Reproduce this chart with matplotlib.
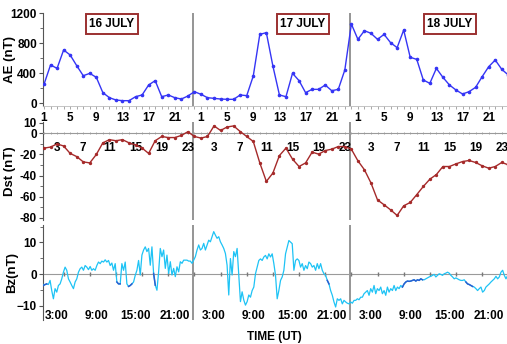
import numpy as np
import matplotlib
matplotlib.use("Agg")
import matplotlib.pyplot as plt
from matplotlib.ticker import MultipleLocator, FixedLocator

plt.rcParams['font.family'] = ['Liberation Sans', 'DejaVu Sans']
plt.rcParams['font.weight'] = 'bold'

# ---------------- data ----------------
hours = np.arange(1, 73)  # hour index, 16 July 01 UT .. 18 July 24 UT

ae_values = [249, 507, 462, 707, 640, 498, 364, 395, 342, 138, 71, 40, 31, 31, 84, 107, 240, 298, 84, 107, 71, 53, 93, 151,
             116, 71, 62, 53, 49, 49, 107, 98, 360, 915, 938, 493, 107, 84, 396, 298, 138, 182, 182, 240, 164, 182, 440, 1053,
             849, 964, 929, 849, 915, 804, 738, 973, 609, 582, 307, 262, 462, 342, 240, 173, 120, 151, 209, 351, 484, 573, 449, 373]

dst_values = [-14, -13, -10, -12, -19, -22, -27, -28, -20, -9, -6, -7, -6, -9, -11, -14, -19, -7, -3, -4, -4, -2, 1.5, -3,
              -4.5, -3, 7, 2.7, 6, 7, 1.7, -3, -7.7, -28, -45.5, -37.6, -21, -14, -24.4, -31.4, -28, -17.8, -19.7, -16.3, -15, -12.5, -12.5, -15,
              -26, -34.5, -47, -63, -67.6, -72.4, -77.7, -68.6, -65.4, -58, -50.3, -43.4, -39, -31.4, -31.4, -28.9, -26.7, -25.7, -27.6, -30.7, -33, -31.4, -27.6, -29.8]

bz_values = [
    -2.5, -3.6, -3.3, -3.1, -3.3, -2.0, -5.2, -7.8, -4.6, -5.7, -3.6, -3.1, -1.5, 0.6, 2.2, 1.2, -1.5, -2.5, -3.6, -4.6,
    -2.5, -1.5, 0.6, 1.7, 2.2, 1.2, 2.7, 2.2, 1.4, 2.4, 1.2, 1.7, 1.2, 2.7, 3.8, 3.3, 4.1, 3.8, 4.5, 3.8,
    4.3, 2.7, 3.5, 1.2, 3.3, -2.5, -3.1, -3.1, 3.3, 1.2, 3.8, -3.1, -3.9, -3.6, -3.1, -2.5, -0.4, 1.2, 4.3,
    -0.3, 6.0, 7.6, 8.6, 7.1, 8.1, 2.8, 8.6, 0.2, -3.5, -5.1, 0.7, 8.1, 5.5, 7.6, 1.8, 6.0, 0.2, 3.9, -0.3,
    1.8, -0.8, 2.3, 0.7, 3.9, 3.4, 4.4, 4.4, 4.4, 4.1, 4.1, 3.4, 4.4, 5.5, 7.6, 9.2, 7.6, 8.1, 9.7, 7.6,
    9.2, 10.7, 10.2, 11.8, 13.4, 12.3, 11.3, 11.8, 10.2, 9.2, 8.1, 6.5, 2.8, -6.6, 4.9, -0.3, 7.1, 5.5, 8.1, -0.3,
    -8.7, -5.6, -8.2, -9.8, -8.7, -6.6,
    -7.3, -5.2, -4.1, 0.1, 2.2, 4.3, 4.8, 4.3, 5.4, 5.9, 4.8, 6.4, 5.4, 6.4, 3.3, -0.4, -7.8, -5.2, -2.0, -0.9,
    1.2, 6.4, 8.5, 10.6, 10.1, 9.6, 1.2, 4.3, 4.8, 4.3, 2.2, 3.3, 1.2, 2.7, 1.7, 3.8, 3.3, 2.2, 2.7, 1.2,
    3.3, 1.7, 3.3, 1.2, 0.1, -0.4, -2.0, -3.1, -5.2, -6.7, -8.8, -10.4, -7.8, -8.3, -7.8, -9.4, -8.3, -8.8, -9.2, -9.4,
    -8.8, -9.2, -8.3, -8.3, -7.8, -8.1, -7.3, -7.3, -6.2, -5.7, -5.2, -6.7, -4.6, -5.7, -3.6, -6.2, -4.6, -5.2, -4.1, -6.2,
    -5.2, -6.7, -4.1, -5.7, -4.6, -5.2, -3.6, -5.2, -4.1, -4.6, -3.6, -4.1, -3.1, -2.5, -2.2, -2.3, -2.2, -2.0, -1.8, -2.2,
    -1.8, -2.0, -1.5, -1.8, -1.8, -1.5, -1.2, -0.9, -0.7, -0.4, -0.1, -0.9, -0.4, 0.1, -0.1, -0.4, 0.1, 0.3, 0.6, 0.3,
    -0.4, -0.9, -1.5, -1.2, -1.5, -1.8, -2.0, -2.0, -1.8, -2.5, -3.1, -3.3, -3.6, -3.9, -4.1, -4.6, -5.2, -4.6, -4.1, -5.7,
    -5.2, -4.1, -3.6, -3.1, -2.5, -2.0, -1.5, -0.7, -1.5, -0.9, 0.6, 1.2, -0.4, -1.5, -0.4]
bz_time = np.linspace(0.65, 71.9, len(bz_values))
# stretches drawn in a darker blue (hours)
bz_dark_ranges = [(0.85, 1.6), (3.0, 3.45), (12.1, 12.9), (13.7, 14.6), (17.6, 18.25), (28.8, 29.1),
                  (44.2, 44.8), (55.8, 58.9), (65.3, 66.7), (69.7, 70.0)]

day_names = ['16 JULY', '17 JULY', '18 JULY']
day_label_hour = [11.4, 40.6, 63.1]
day_breaks = [23.8, 47.8]

ae_tick_hours = [1, 5, 9, 13, 17, 21]
dst_tick_hours = [3, 7, 11, 15, 19, 23]
bz_tick_hours = [3, 9, 15, 21]

# ---------------- figure ----------------
W, H = 507, 344
fig = plt.figure(figsize=(W / 100, H / 100), dpi=100)

def fr(left_px, top_px, right_px, bottom_px):
    return [left_px / W, 1 - bottom_px / H, (right_px - left_px) / W, (bottom_px - top_px) / H]

xlim = (0.77, 71.8)
ae_ax = fig.add_axes(fr(42.5, 13, 507, 106))
dst_ax = fig.add_axes(fr(42.5, 121.7, 507, 220))
bz_ax = fig.add_axes(fr(42.5, 225, 507, 320))

tick_fs = 8.5
AE_C = '#3535f5'
DST_C = '#a52a2a'
BZ_C = '#1ec3f5'
BZ_DARK = '#2a5fd0'

for ax in (ae_ax, dst_ax, bz_ax):
    ax.set_xlim(*xlim)
    ax.spines['top'].set_visible(False)
    ax.spines['right'].set_visible(False)
    ax.spines['left'].set_color('#555555')
    ax.spines['left'].set_linewidth(0.8)
    ax.tick_params(axis='y', labelsize=tick_fs, length=3, width=0.8, color='#555555', pad=1)
    ax.tick_params(axis='y', which='minor', length=2, width=0.6, color='#555555')
    for xb in day_breaks:
        ax.axvline(xb, color='#8c8c8c', lw=1.3, zorder=1)

# ---- AE ----
ae_ax.plot(hours, ae_values, color=AE_C, lw=1.0, marker='o', ms=1.6, zorder=3)
ae_ax.set_ylim(-40, 1200)
ae_ax.set_yticks([0, 400, 800, 1200])
ae_ax.yaxis.set_minor_locator(MultipleLocator(200))
ae_ax.spines['bottom'].set_color('#bbbbbb')
ae_ax.spines['bottom'].set_linewidth(0.6)
ae_ticks = [h + 24 * d for d in range(3) for h in ae_tick_hours]
ae_ax.set_xticks(ae_ticks)
ae_ax.set_xticklabels([str(h) for d in range(3) for h in ae_tick_hours], fontsize=tick_fs, fontweight='bold')
ae_ax.xaxis.set_minor_locator(FixedLocator(hours))
ae_ax.tick_params(axis='x', which='both', length=2, width=0.6, color='#999999', pad=2)
ae_ax.set_ylabel('AE (nT)', fontsize=9.5, fontweight='bold')
ae_ax.yaxis.set_label_coords(-0.056, 0.5)
for name, hx in zip(day_names, day_label_hour):
    ae_ax.text(hx, 1053, name, ha='center', va='center', fontsize=8.5, fontweight='bold',
               bbox=dict(boxstyle='square,pad=0.3', fc='white', ec='#9b3030', lw=1.4), zorder=5)

# ---- Dst ----
dst_ax.plot(hours, dst_values, color=DST_C, lw=1.0, marker='o', ms=1.4, zorder=3)
dst_ax.set_ylim(-82, 11)
dst_ax.set_yticks([10, 0, -20, -40, -60, -80])
dst_ax.set_yticklabels(['10', '0', '-20', '-40', '-60', '-80'])
dst_ax.yaxis.set_minor_locator(MultipleLocator(10))
dst_ax.spines['bottom'].set_position(('data', 0))
dst_ax.spines['bottom'].set_color('#9a9a9a')
dst_ax.spines['bottom'].set_linewidth(0.8)
dst_ax.spines['bottom'].set_linestyle((0, (2, 1)))
dst_ticks = [h + 24 * d for d in range(3) for h in dst_tick_hours]
dst_ax.set_xticks(dst_ticks)
dst_ax.set_xticklabels([str(h) for d in range(3) for h in dst_tick_hours], fontsize=tick_fs, fontweight='bold')
dst_ax.xaxis.set_minor_locator(FixedLocator(hours))
dst_ax.tick_params(axis='x', which='both', length=2, width=0.6, color='#999999', pad=5, direction='inout')
dst_ax.set_ylabel('Dst (nT)', fontsize=9.5, fontweight='bold')
dst_ax.yaxis.set_label_coords(-0.056, 0.5)

# ---- Bz ----
bz_arr = np.array(bz_values, dtype=float)
bz_ax.plot(bz_time, bz_arr, color=BZ_C, lw=0.9, zorder=3)
dark = np.zeros_like(bz_arr, dtype=bool)
for a, b in bz_dark_ranges:
    dark |= (bz_time >= a) & (bz_time <= b)
bz_ax.plot(bz_time, np.where(dark, bz_arr, np.nan), color=BZ_DARK, lw=1.1, zorder=4)
bz_ax.set_ylim(-14.5, 15.5)
bz_ax.set_yticks([10, 0, -10])
bz_ax.yaxis.set_minor_locator(MultipleLocator(5))
bz_ax.spines['bottom'].set_visible(False)
bz_ax.axhline(0, color='#9a9a9a', lw=0.8, zorder=2)
bz_marks = np.arange(4, 72, 4)
bz_ax.plot(bz_marks, np.zeros(len(bz_marks)), ls='none', marker='|', ms=3, color='#777777', zorder=2)
bz_ticks = [h + 24 * d for d in range(3) for h in bz_tick_hours]
bz_ax.set_xticks(bz_ticks)
bz_ax.set_xticklabels(['%d:00' % h for d in range(3) for h in bz_tick_hours], fontsize=tick_fs, fontweight='bold')
bz_ax.tick_params(axis='x', length=0, pad=-7.5)
bz_ax.set_ylabel('Bz(nT)', fontsize=9.5, fontweight='bold')
bz_ax.yaxis.set_label_coords(-0.053, 0.5)

fig.text(274 / W, 1 - 337 / H, 'TIME (UT)', ha='center', va='center', fontsize=8.5, fontweight='bold')

fig.savefig('out.png', dpi=100)
